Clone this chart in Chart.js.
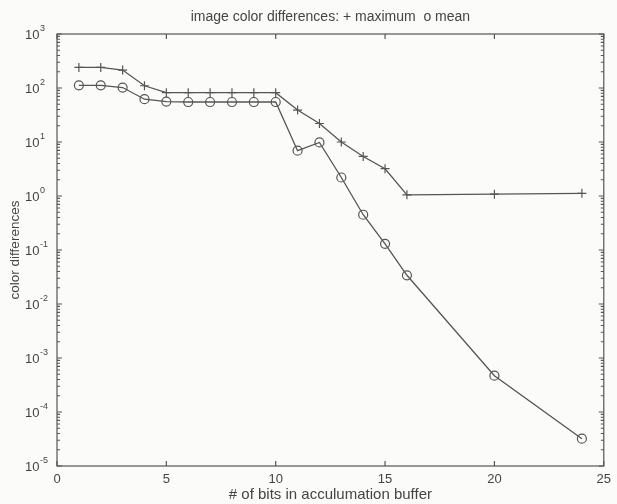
<!DOCTYPE html>
<html lang="en">
<head>
  <meta charset="UTF-8">
  <title>image color differences</title>
  <script src="https://cdn.jsdelivr.net/npm/chart.js"></script>
  <style>
    html, body {
      margin: 0;
      padding: 0;
      background: #fbfbf9;
    }
    #wrap {
      width: 617px;
      height: 504px;
    }
  </style>
</head>
<body>
  <div id="wrap"><canvas id="chart" width="617" height="504"></canvas></div>

  <script>
    // bits in the accumulation buffer
    const bits = [1, 2, 3, 4, 5, 6, 7, 8, 9, 10, 11, 12, 13, 14, 15, 16, 20, 24];

    // + maximum
    const maxDiff = [240, 240, 215, 110, 82, 82, 82, 82, 82, 82, 39, 22, 10, 5.4, 3.2, 1.05, 1.08, 1.12];
    // o mean
    const meanDiff = [112, 112, 102, 62, 56, 55, 55, 55, 55, 55, 6.9, 9.8, 2.2, 0.45, 0.13, 0.034, 0.00047, 0.000032];

    const xTicks = [0, 5, 10, 15, 20, 25];
    const yExps = [3, 2, 1, 0, -1, -2, -3, -4, -5];

    const titleText = 'image color differences: + maximum  o mean';
    const ink = '#555';
    const txt = '#444';
    const fam = 'Liberation Sans, Arial, sans-serif';

    // MATLAB style box, inward ticks, 10^n labels and title
    const frame = {
      id: 'frame',
      beforeDraw(chart) {
        const c = chart.ctx;
        c.save();
        c.fillStyle = '#fbfbf9';
        c.fillRect(0, 0, chart.width, chart.height);
        c.restore();
      },
      afterDraw(chart) {
        const c = chart.ctx;
        const a = chart.chartArea;
        const xs = chart.scales.x;
        const ys = chart.scales.y;
        c.save();
        c.strokeStyle = ink;
        c.lineWidth = 1.2;
        c.strokeRect(a.left, a.top, a.right - a.left, a.bottom - a.top);
        c.beginPath();
        xTicks.forEach(v => {
          const px = xs.getPixelForValue(v);
          c.moveTo(px, a.bottom); c.lineTo(px, a.bottom - 5);
          c.moveTo(px, a.top); c.lineTo(px, a.top + 5);
        });
        yExps.forEach(e => {
          for (let m = 1; m < 10; m++) {
            if (e === 3 && m > 1) break;
            const py = ys.getPixelForValue(m * Math.pow(10, e));
            const len = m === 1 ? 5 : 3;
            c.moveTo(a.left, py); c.lineTo(a.left + len, py);
            c.moveTo(a.right, py); c.lineTo(a.right - len, py);
          }
        });
        c.stroke();

        // y tick labels as 10 with raised exponent
        c.fillStyle = txt;
        c.textAlign = 'left';
        c.textBaseline = 'middle';
        yExps.forEach(e => {
          const py = ys.getPixelForValue(Math.pow(10, e));
          c.font = '13px ' + fam;
          c.fillText('10', 25, py + 1);
          const w = c.measureText('10').width;
          c.font = '9px ' + fam;
          c.fillText(String(e), 25 + w + 0.5, py - 5);
        });

        // title over the plot box
        c.font = '14px ' + fam;
        c.textAlign = 'center';
        c.fillText(titleText, (a.left + a.right) / 2, 17);
        c.restore();
      }
    };

    const ctx = document.getElementById('chart').getContext('2d');
    new Chart(ctx, {
      type: 'line',
      data: {
        labels: bits,
        datasets: [{
          label: '+ maximum',
          data: bits.map((b, i) => ({ x: b, y: maxDiff[i] })),
          borderColor: ink,
          backgroundColor: ink,
          borderWidth: 1.3,
          pointStyle: 'cross',
          pointRadius: 4.5,
          pointBorderWidth: 1.2,
          fill: false,
          tension: 0
        }, {
          label: 'o mean',
          data: bits.map((b, i) => ({ x: b, y: meanDiff[i] })),
          borderColor: ink,
          backgroundColor: 'rgba(0,0,0,0)',
          borderWidth: 1.3,
          pointStyle: 'circle',
          pointRadius: 4.5,
          pointBorderWidth: 1.2,
          fill: false,
          tension: 0
        }]
      },
      options: {
        responsive: false,
        animation: false,
        layout: { padding: { top: 34, right: 9, left: 0, bottom: 0 } },
        plugins: {
          legend: { display: false },
          tooltip: { enabled: false },
          title: { display: false }
        },
        scales: {
          x: {
            type: 'linear',
            min: 0,
            max: 25,
            afterBuildTicks(s) { s.ticks = xTicks.map(v => ({ value: v })); },
            afterFit(s) { s.height = 38; },
            grid: { display: false, drawTicks: false },
            border: { display: false },
            ticks: {
              color: txt,
              padding: 6,
              maxRotation: 0,
              font: { family: fam, size: 13 }
            },
            title: {
              display: true,
              text: '# of bits in acculumation buffer',
              color: txt,
              font: { family: fam, size: 15 },
              padding: { top: 0, bottom: 0 }
            }
          },
          y: {
            type: 'logarithmic',
            min: 1e-5,
            max: 1e3,
            afterBuildTicks(s) { s.ticks = yExps.map(e => ({ value: Math.pow(10, e), major: true })); },
            afterFit(s) { s.width = 57; },
            grid: { display: false, drawTicks: false },
            border: { display: false },
            ticks: { display: false },
            title: {
              display: true,
              text: 'color differences',
              color: txt,
              font: { family: fam, size: 13.5 },
              padding: { top: 7, bottom: 0 }
            }
          }
        }
      },
      plugins: [frame]
    });
  </script>
</body>
</html>
